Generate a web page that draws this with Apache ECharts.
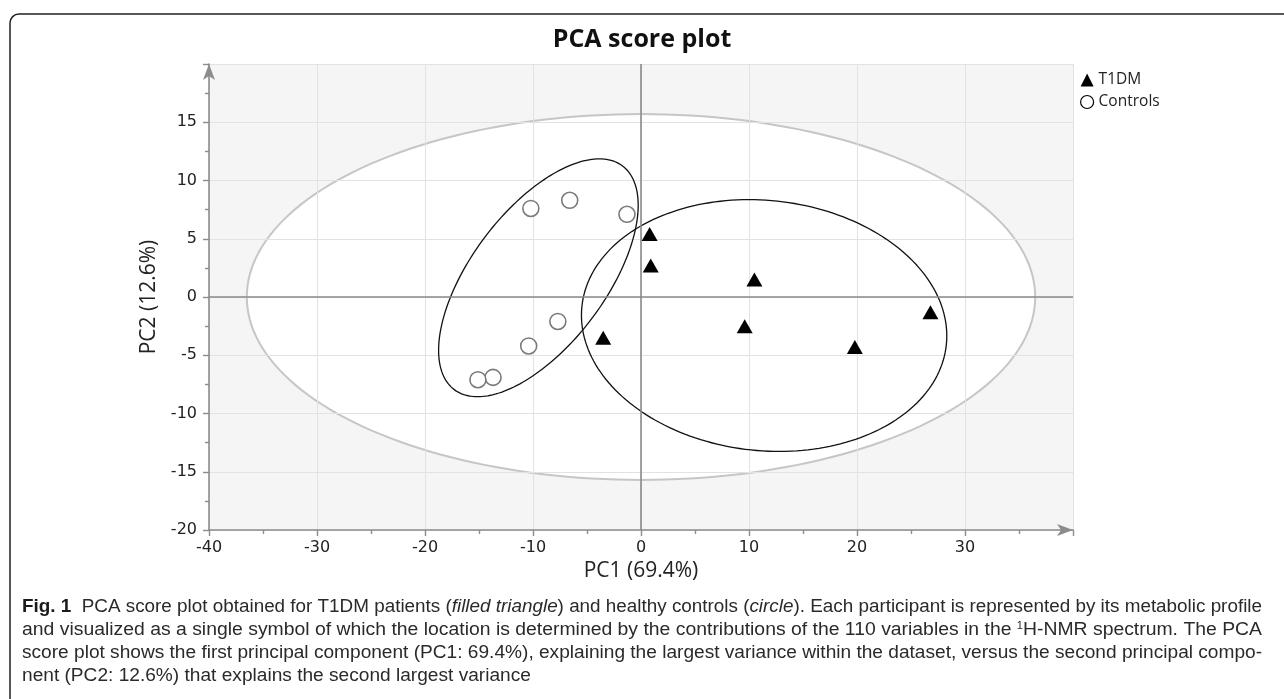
<!DOCTYPE html>
<html>
<head>
<meta charset="utf-8">
<script src="https://cdn.jsdelivr.net/npm/echarts@6/dist/echarts.min.js"></script>
<style>
html,body{margin:0;padding:0;background:#fff;}
#chart{width:1284px;height:699px;}
</style>
</head>
<body>
<div id="chart"></div>
<script>
// ---- data ----
const seriesNames = ['T1DM', 'Controls'];
const t1dmPC1 = [0.8, 0.9, 10.5, 9.6, -3.5, 19.8, 26.8];
const t1dmPC2 = [5.4, 2.7, 1.5, -2.5, -3.5, -4.3, -1.3];
const ctrlPC1 = [-10.2, -6.6, -1.3, -7.7, -10.4, -13.7, -15.1];
const ctrlPC2 = [7.6, 8.3, 7.1, -2.1, -4.2, -6.9, -7.1];
const xTicks = [-40, -30, -20, -10, 0, 10, 20, 30];
const yTicks = [-20, -15, -10, -5, 0, 5, 10, 15];
// ellipses: centre + two semi-axis vectors (data units)
const hotellingCenter = [0, 0];
const hotellingSemi = [36.5, 15.7];
const ctrlEllipseCenter = [-9.5, 1.65];
const ctrlEllipseAxes = [[7.79, 9.60], [-4.97, 3.47]];
const t1dmEllipseCenter = [11.4, -2.45];
const t1dmEllipseAxes = [[16.87, -1.66], [1.22, 10.68]];

const titleText = 'PCA score plot';
const xName = 'PC1 (69.4%)';
const yName = 'PC2 (12.6%)';
const captionLines = [
  [['b', 'Fig. 1'], ['n', '  PCA score plot obtained for T1DM patients ('], ['i', 'filled triangle'], ['n', ') and healthy controls ('], ['i', 'circle'], ['n', '). Each participant is represented by its metabolic profile']],
  [['n', 'and visualized as a single symbol of which the location is determined by the contributions of the 110 variables in the '], ['s', '1'], ['n', 'H-NMR spectrum. The PCA']],
  [['n', 'score plot shows the first principal component (PC1: 69.4%), explaining the largest variance within the dataset, versus the second principal compo-']],
  [['n', 'nent (PC2: 12.6%) that explains the second largest variance']]
];

const t1dmData = t1dmPC1.map((v, i) => [v, t1dmPC2[i]]);
const ctrlData = ctrlPC1.map((v, i) => [v, ctrlPC2[i]]);

function ellipsePoints(api, c, u, v) {
  const pts = [];
  const n = 200;
  for (let i = 0; i <= n; i++) {
    const t = i / n * Math.PI * 2;
    pts.push(api.coord([c[0] + u[0] * Math.cos(t) + v[0] * Math.sin(t), c[1] + u[1] * Math.cos(t) + v[1] * Math.sin(t)]));
  }
  return pts;
}

// caption text (rich), compressed horizontally per line to justify like the print layout
const capFont = 'Liberation Sans';
const capSize = 17.5;
const capRich = {
  b: {fontFamily: capFont, fontSize: capSize, fontWeight: 'bold', fill: '#1a1a1a'},
  n: {fontFamily: capFont, fontSize: capSize, fill: '#2a2a2a'},
  i: {fontFamily: capFont, fontSize: capSize, fontStyle: 'italic', fill: '#2a2a2a'},
  s: {fontFamily: capFont, fontSize: 10, fill: '#2a2a2a', verticalAlign: 'top', padding: [0, 0, 8, 0]}
};
const mctx = document.createElement('canvas').getContext('2d');
function segWidth(seg) {
  const st = capRich[seg[0]];
  mctx.font = (st.fontStyle || 'normal') + ' ' + (st.fontWeight || 'normal') + ' ' + st.fontSize + 'px "' + capFont + '"';
  return mctx.measureText(seg[1]).width;
}
const capLeft = 22, capWidth = 1240, capTop = 607, capStep = 23;
const lineWidths = captionLines.map(l => l.reduce((s, g) => s + segWidth(g), 0));
const capScales = lineWidths.map((w, i) => i < 3 ? capWidth / w : 0);
capScales[3] = (capScales[0] + capScales[1] + capScales[2]) / 3;
const captionGraphics = captionLines.map((line, i) => ({
  type: 'text',
  x: capLeft, y: capTop + i * capStep,
  scaleX: capScales[i], originX: 0,
  style: {
    text: line.map(g => '{' + g[0] + '|' + g[1] + '}').join(''),
    rich: capRich,
    verticalAlign: 'middle'
  }
}));

const chart = echarts.init(document.getElementById('chart'));
chart.setOption({
  backgroundColor: '#fff',
  animation: false,
  title: {
    text: titleText, left: 'center', top: 22,
    textStyle: {fontFamily: 'Open Sans', fontWeight: 'bold', fontSize: 25, color: '#111'}
  },
  legend: {
    orient: 'vertical', left: 1080, top: 72, itemWidth: 13, itemHeight: 13, itemGap: 6, padding: 0,
    textStyle: {fontFamily: 'Open Sans', fontSize: 15.5, color: '#222'},
    data: [
      {name: seriesNames[0], icon: 'triangle', itemStyle: {color: '#000', borderWidth: 0}},
      {name: seriesNames[1], icon: 'circle', itemStyle: {color: '#fff', borderColor: '#000', borderWidth: 1.2}}
    ]
  },
  grid: {left: 209, right: 211, top: 64, bottom: 169, containLabel: false},
  xAxis: {
    type: 'value', min: xTicks[0], max: 40, interval: 10,
    name: xName, nameLocation: 'middle', nameGap: 29,
    nameTextStyle: {fontFamily: 'Open Sans', fontSize: 21, color: '#222'},
    axisLine: {show: true, onZero: false, symbol: ['none', 'arrow'], symbolSize: [9, 16], symbolOffset: [0, 0], lineStyle: {color: '#8c8c8c', width: 1.6}},
    axisTick: {show: true, length: 6, lineStyle: {color: '#8c8c8c', width: 1.4}},
    minorTick: {show: true, splitNumber: 2, length: 4, lineStyle: {color: '#8c8c8c', width: 1.4}},
    axisLabel: {fontFamily: 'DejaVu Sans', fontSize: 16, color: '#222', margin: 10,
      formatter: v => xTicks.indexOf(v) >= 0 ? String(v) : ''},
    splitLine: {show: true, lineStyle: {color: '#e2e2e2', width: 1}}
  },
  yAxis: {
    type: 'value', min: yTicks[0], max: 20, interval: 5,
    name: yName, nameLocation: 'middle', nameGap: 38, nameRotate: 90,
    nameTextStyle: {fontFamily: 'Open Sans', fontSize: 21, color: '#222'},
    axisLine: {show: true, onZero: false, symbol: ['none', 'arrow'], symbolSize: [9, 16], symbolOffset: [0, 0], lineStyle: {color: '#8c8c8c', width: 1.6}},
    axisTick: {show: true, length: 6, lineStyle: {color: '#8c8c8c', width: 1.4}},
    minorTick: {show: true, splitNumber: 2, length: 4, lineStyle: {color: '#8c8c8c', width: 1.4}},
    axisLabel: {fontFamily: 'DejaVu Sans', fontSize: 16, color: '#222', margin: 12,
      formatter: v => yTicks.indexOf(v) >= 0 ? String(v) : ''},
    splitLine: {show: true, lineStyle: {color: '#e2e2e2', width: 1}}
  },
  graphic: [
    {type: 'rect', shape: {x: 10, y: 14, width: 1300, height: 720, r: 9}, style: {fill: 'none', stroke: '#222', lineWidth: 1.5}, silent: true}
  ].concat(captionGraphics),
  series: [
    {
      type: 'custom', name: 'hotelling', z: -1, silent: true, clip: true,
      data: [[0, 0]],
      renderItem: function (params, api) {
        const cs = params.coordSys;
        return {type: 'group', children: [
          {type: 'rect', shape: {x: cs.x, y: cs.y, width: cs.width, height: cs.height}, style: {fill: '#f5f5f5'}},
          {type: 'polygon', shape: {points: ellipsePoints(api, hotellingCenter, [hotellingSemi[0], 0], [0, hotellingSemi[1]])}, style: {fill: '#fff', stroke: '#c6c6c6', lineWidth: 2}}
        ]};
      }
    },
    {
      type: 'custom', name: 'groupEllipses', z: 3, silent: true, clip: true,
      data: [[0, 0]],
      renderItem: function (params, api) {
        return {type: 'group', children: [
          {type: 'polyline', shape: {points: ellipsePoints(api, ctrlEllipseCenter, ctrlEllipseAxes[0], ctrlEllipseAxes[1])}, style: {fill: 'none', stroke: '#111', lineWidth: 1.3}},
          {type: 'polyline', shape: {points: ellipsePoints(api, t1dmEllipseCenter, t1dmEllipseAxes[0], t1dmEllipseAxes[1])}, style: {fill: 'none', stroke: '#111', lineWidth: 1.3}}
        ]};
      },
      markLine: {
        silent: true, symbol: 'none', animation: false,
        label: {show: false},
        lineStyle: {color: '#8a8a8a', width: 1.6, type: 'solid'},
        data: [{xAxis: 0}, {yAxis: 0}]
      }
    },
    {
      name: seriesNames[0], type: 'scatter', z: 5, data: t1dmData,
      symbol: 'triangle', symbolSize: [16, 14],
      itemStyle: {color: '#000', opacity: 1}
    },
    {
      name: seriesNames[1], type: 'scatter', z: 5, data: ctrlData,
      symbol: 'circle', symbolSize: 16,
      itemStyle: {color: '#fff', borderColor: '#7a7a7a', borderWidth: 1.6, opacity: 1}
    }
  ]
});
</script>
</body>
</html>
